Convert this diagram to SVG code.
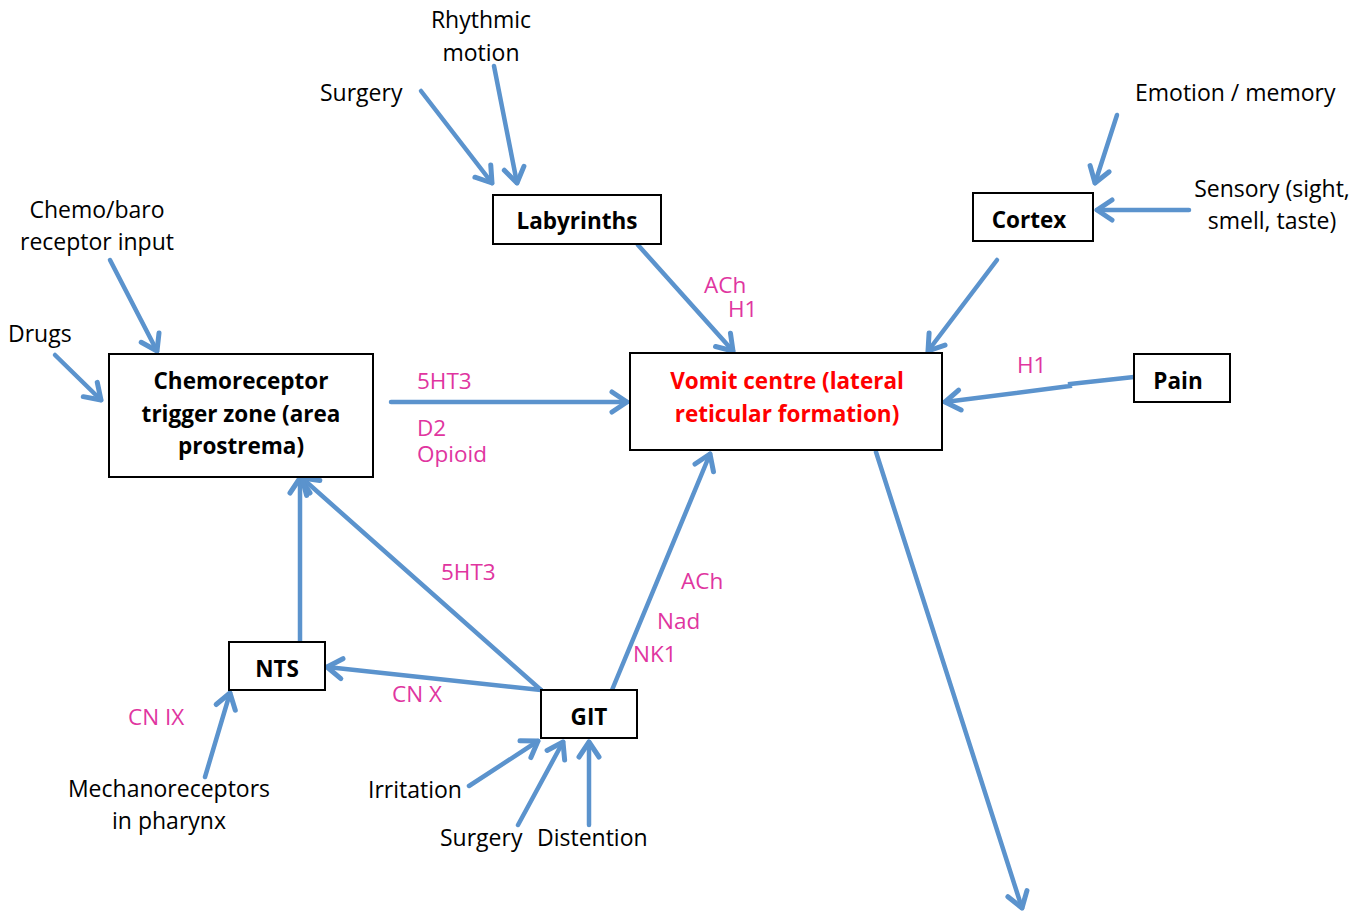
<svg xmlns="http://www.w3.org/2000/svg" width="1366" height="911" viewBox="0 0 1366 911">
<defs>
<marker id="ah" markerUnits="userSpaceOnUse" markerWidth="40" markerHeight="40" viewBox="-20 -20 40 40" refX="0" refY="0" orient="auto">
<path d="M-15,-10 L0,0 L-15,10" fill="none" stroke="#5b93cd" stroke-width="5" stroke-linecap="round" stroke-linejoin="round"/>
</marker>
</defs>
<style>
.box{fill:#fff;stroke:#000;stroke-width:2}
.nt{font-family:"Open Sans","Liberation Sans",sans-serif;font-weight:bold;font-size:22.5px;fill:#000;text-anchor:middle}
.red{fill:#ff0000}
.lb{font-family:"Open Sans","Liberation Sans",sans-serif;font-size:23px;fill:#000}
.mid{text-anchor:middle}
.pk{font-family:"Open Sans","Liberation Sans",sans-serif;font-size:22.5px;fill:#e0359f}
.cn{fill:none;stroke:#5b93cd;stroke-width:4.5;stroke-linecap:round;marker-end:url(#ah)}
</style>
<rect width="1366" height="911" fill="#fff"/>
<g id="connectors">
<line class="cn" x1="421" y1="91" x2="492" y2="183"/>
<line class="cn" x1="494" y1="66" x2="517" y2="183"/>
<line class="cn" x1="638" y1="245" x2="733" y2="351"/>
<line class="cn" x1="1117" y1="115" x2="1095" y2="183"/>
<line class="cn" x1="1189" y1="210" x2="1097" y2="210"/>
<line class="cn" x1="997" y1="260" x2="928" y2="351"/>
<polyline class="cn" points="1134,377 1070,384 1070,386 945,402"/>
<line class="cn" x1="110" y1="260" x2="157" y2="351"/>
<line class="cn" x1="55" y1="355" x2="101" y2="400"/>
<line class="cn" x1="391" y1="402" x2="627" y2="402"/>
<line class="cn" x1="300" y1="642" x2="300" y2="478"/>
<line class="cn" x1="541" y1="690" x2="302" y2="478"/>
<line class="cn" x1="541" y1="690" x2="327" y2="667"/>
<line class="cn" x1="612" y1="690" x2="710" y2="454"/>
<line class="cn" x1="205" y1="777" x2="230" y2="693"/>
<line class="cn" x1="469" y1="786" x2="538" y2="741"/>
<line class="cn" x1="518" y1="825" x2="563" y2="742"/>
<line class="cn" x1="589" y1="825" x2="589" y2="742"/>
<line class="cn" x1="876" y1="452" x2="1022" y2="908"/>
</g>
<g id="labyrinths"><rect class="box" x="493" y="195" width="168" height="49"/><text class="nt" x="577" y="229">Labyrinths</text></g>
<g id="cortex"><rect class="box" x="973" y="193" width="120" height="48"/><text class="nt" x="1029" y="228">Cortex</text></g>
<g id="ctz"><rect class="box" x="109" y="354" width="264" height="123"/><text class="nt" x="241" y="389">Chemoreceptor</text><text class="nt" x="241" y="422">trigger zone (area</text><text class="nt" x="241" y="454">prostrema)</text></g>
<g id="vomit"><rect class="box" x="630" y="353" width="312" height="97"/><text class="nt red" x="787" y="389">Vomit centre (lateral</text><text class="nt red" x="787" y="422">reticular formation)</text></g>
<g id="pain"><rect class="box" x="1134" y="354" width="96" height="48"/><text class="nt" x="1178" y="389">Pain</text></g>
<g id="nts"><rect class="box" x="229" y="642" width="96" height="48"/><text class="nt" x="277" y="677">NTS</text></g>
<g id="git"><rect class="box" x="541" y="690" width="96" height="48"/><text class="nt" x="589" y="725">GIT</text></g>
<g id="labels">
<text class="lb mid" x="481" y="28">Rhythmic</text>
<text class="lb mid" x="481" y="61">motion</text>
<text class="lb" x="320" y="101">Surgery</text>
<text class="lb" x="1135" y="101">Emotion / memory</text>
<text class="lb mid" x="1272" y="197">Sensory (sight,</text>
<text class="lb mid" x="1272" y="229">smell, taste)</text>
<text class="lb mid" x="97" y="218">Chemo/baro</text>
<text class="lb mid" x="97" y="250">receptor input</text>
<text class="lb" x="8" y="342">Drugs</text>
<text class="lb mid" x="169" y="797">Mechanoreceptors</text>
<text class="lb mid" x="169" y="829">in pharynx</text>
<text class="lb" x="368" y="798">Irritation</text>
<text class="lb" x="440" y="846">Surgery</text>
<text class="lb" x="537" y="846">Distention</text>
</g>
<g id="receptor-labels">
<text class="pk" x="704" y="293">ACh</text>
<text class="pk" x="728" y="317">H1</text>
<text class="pk" x="417" y="389">5HT3</text>
<text class="pk" x="417" y="436">D2</text>
<text class="pk" x="417" y="462">Opioid</text>
<text class="pk" x="1017" y="373">H1</text>
<text class="pk" x="441" y="580">5HT3</text>
<text class="pk" x="681" y="589">ACh</text>
<text class="pk" x="657" y="629">Nad</text>
<text class="pk" x="633" y="662">NK1</text>
<text class="pk" x="392" y="702">CN X</text>
<text class="pk" x="128" y="725">CN IX</text>
</g>
</svg>
